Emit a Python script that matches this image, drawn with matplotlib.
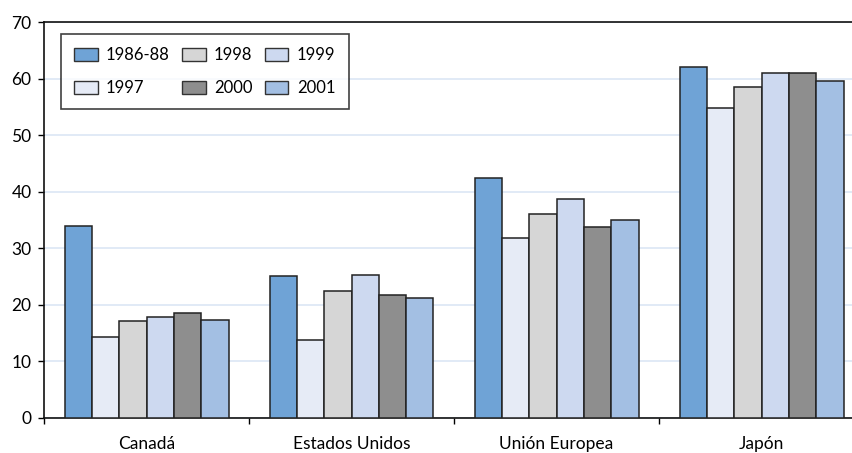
import matplotlib
matplotlib.use("Agg")
import matplotlib.pyplot as plt
from matplotlib.patches import Patch
import numpy as np

plt.rcParams['font.family'] = ['Lato', 'DejaVu Sans']

regions = ["Canadá", "Estados Unidos", "Unión Europea", "Japón"]
series = ["1986-88", "1997", "1998", "1999", "2000", "2001"]
v_1986_88 = [34.0, 25.1, 42.4, 62.0]
v_1997 = [14.3, 13.8, 31.8, 54.8]
v_1998 = [17.1, 22.4, 36.1, 58.5]
v_1999 = [17.9, 25.3, 38.7, 61.0]
v_2000 = [18.6, 21.7, 33.8, 61.0]
v_2001 = [17.3, 21.2, 35.0, 59.6]
values = [v_1986_88, v_1997, v_1998, v_1999, v_2000, v_2001]
colors = ["#6fa3d6", "#e6ebf6", "#d6d6d6", "#cdd9f0", "#8e8e8e", "#a3bfe3"]
yticks = [0, 10, 20, 30, 40, 50, 60, 70]

fig = plt.figure(figsize=(8.53, 4.53), dpi=100)
W, H = 853, 453
ax = fig.add_axes([44 / W, (H - 418) / H, (864 - 44) / W, (418 - 22) / H])

n = len(series)
group = 0.8
bw = group / n
x = np.arange(len(regions))
for i, (name, vals, c) in enumerate(zip(series, values, colors)):
    ax.bar(x - group / 2 + bw * (i + 0.5), vals, width=bw, color=c,
           edgecolor="#222222", linewidth=1.1, zorder=3, label=name)

ax.set_xlim(-0.5, len(regions) - 0.5)
ax.set_ylim(0, 70)
ax.set_yticks(yticks)
ax.set_xticks(x)
ax.set_xticklabels(regions, fontsize=12.5)
ax.set_xticks(np.arange(len(regions)) - 0.5, minor=True)
ax.tick_params(axis="x", which="major", length=0, pad=13)
ax.tick_params(axis="x", which="minor", length=4, width=1, direction="out")
ax.tick_params(axis="y", length=4, width=1, direction="out", labelsize=12.5, pad=5)
ax.yaxis.grid(True, color="#dce6f5", linewidth=1.2, zorder=0)
ax.set_axisbelow(True)
for s in ("top", "left", "bottom"):
    ax.spines[s].set_linewidth(1.2)
    ax.spines[s].set_color("#111111")
ax.spines["right"].set_visible(False)

handles = [Patch(facecolor=c, edgecolor="#333333", linewidth=1, label=s)
           for s, c in zip(series, colors)]
# two rows of three, filled column by column
order = [0, 1, 2, 4, 3, 5]
leg = ax.legend([handles[k] for k in order], [series[k] for k in order],
                ncol=3, loc="upper left", bbox_to_anchor=(17 / 820, 1 - 12 / 396),
                frameon=True, fancybox=False, edgecolor="#111111",
                fontsize=12, handlelength=1.4, handleheight=0.85,
                columnspacing=0.75, handletextpad=0.5, labelspacing=1.0,
                borderpad=0.8, borderaxespad=0)
leg.get_frame().set_linewidth(1.2)

fig.savefig("out.png", dpi=100)
